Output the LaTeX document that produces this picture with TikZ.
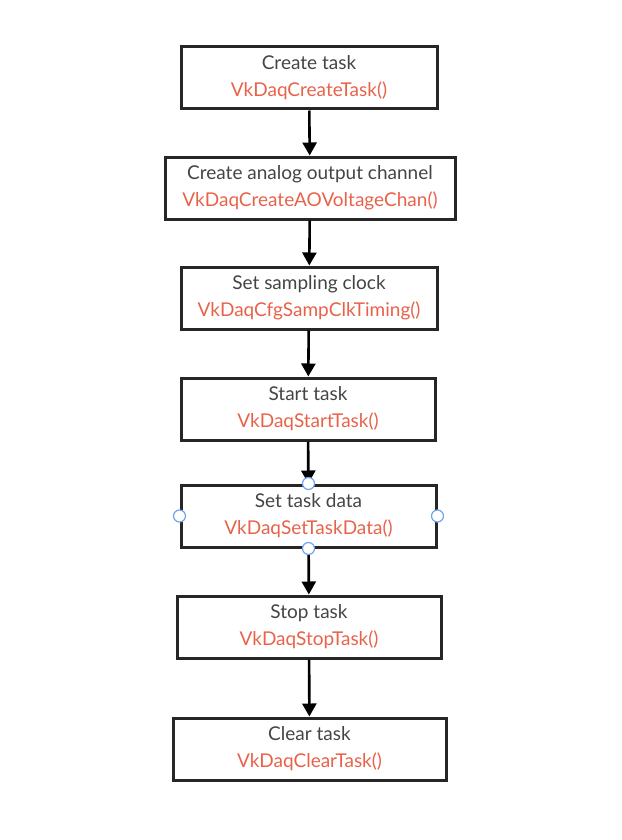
\documentclass[tikz,border=0pt]{standalone}
\usepackage{fontspec}
\setmainfont{Lato}
\usetikzlibrary{arrows.meta,positioning}
\definecolor{txtgray}{HTML}{444444}
\definecolor{fnred}{HTML}{E8624A}
\definecolor{handleblue}{HTML}{6FA3EE}
\tikzset{every picture/.style={line width=0.75pt}}
\tikzset{
  stepbox/.style={draw=black!85,line width=3pt,minimum height=62pt,inner sep=0pt,
    align=center,font=\fontsize{19}{27}\selectfont,text=txtgray},
  flow/.style={line width=2.6pt,-{Triangle[length=13pt,width=14pt]}},
  handle/.style={draw=handleblue,fill=white,line width=1.2pt}
}
\newcommand{\fn}[1]{\textcolor{fnred}{#1}}

\begin{document}
\begin{tikzpicture}[x=1pt,y=-1pt]
    \useasboundingbox (0,0) rectangle (621,840);

    % steps of the task
    \node[stepbox,minimum width=256pt] (create) at (309,78) {Create task\\\fn{VkDaqCreateTask()}};
    \node[stepbox,minimum width=290pt] (chan) at (310,188) {Create analog output channel\\\fn{VkDaqCreateAOVoltageChan()}};
    \node[stepbox,minimum width=256pt] (clock) at (309,298) {Set sampling clock\\\fn{VkDaqCfgSampClkTiming()}};
    \node[stepbox,minimum width=254pt] (start) at (308,409) {Start task\\\fn{VkDaqStartTask()}};
    \node[stepbox,minimum width=255pt] (data) at (308.5,516) {Set task data\\\fn{VkDaqSetTaskData()}};
    \node[stepbox,minimum width=264pt] (stop) at (309,627) {Stop task\\\fn{VkDaqStopTask()}};
    \node[stepbox,minimum width=273pt] (clear) at (309.5,749) {Clear task\\\fn{VkDaqClearTask()}};

    % arrows
    \draw[flow] (create) -- (chan);
    \draw[flow] (chan) -- (clock);
    \draw[flow] (clock) -- (start);
    \draw[flow] (start) -- (data);
    \draw[flow] (data) -- (stop);
    \draw[flow] (stop) -- (clear);

    % selection handles on the set-data box
    \draw[handle] (data.north) circle (6pt);
    \draw[handle] (data.south) circle (6pt);
    \draw[handle] (data.west) circle (6pt);
    \draw[handle] (data.east) circle (6pt);
\end{tikzpicture}
\end{document}
